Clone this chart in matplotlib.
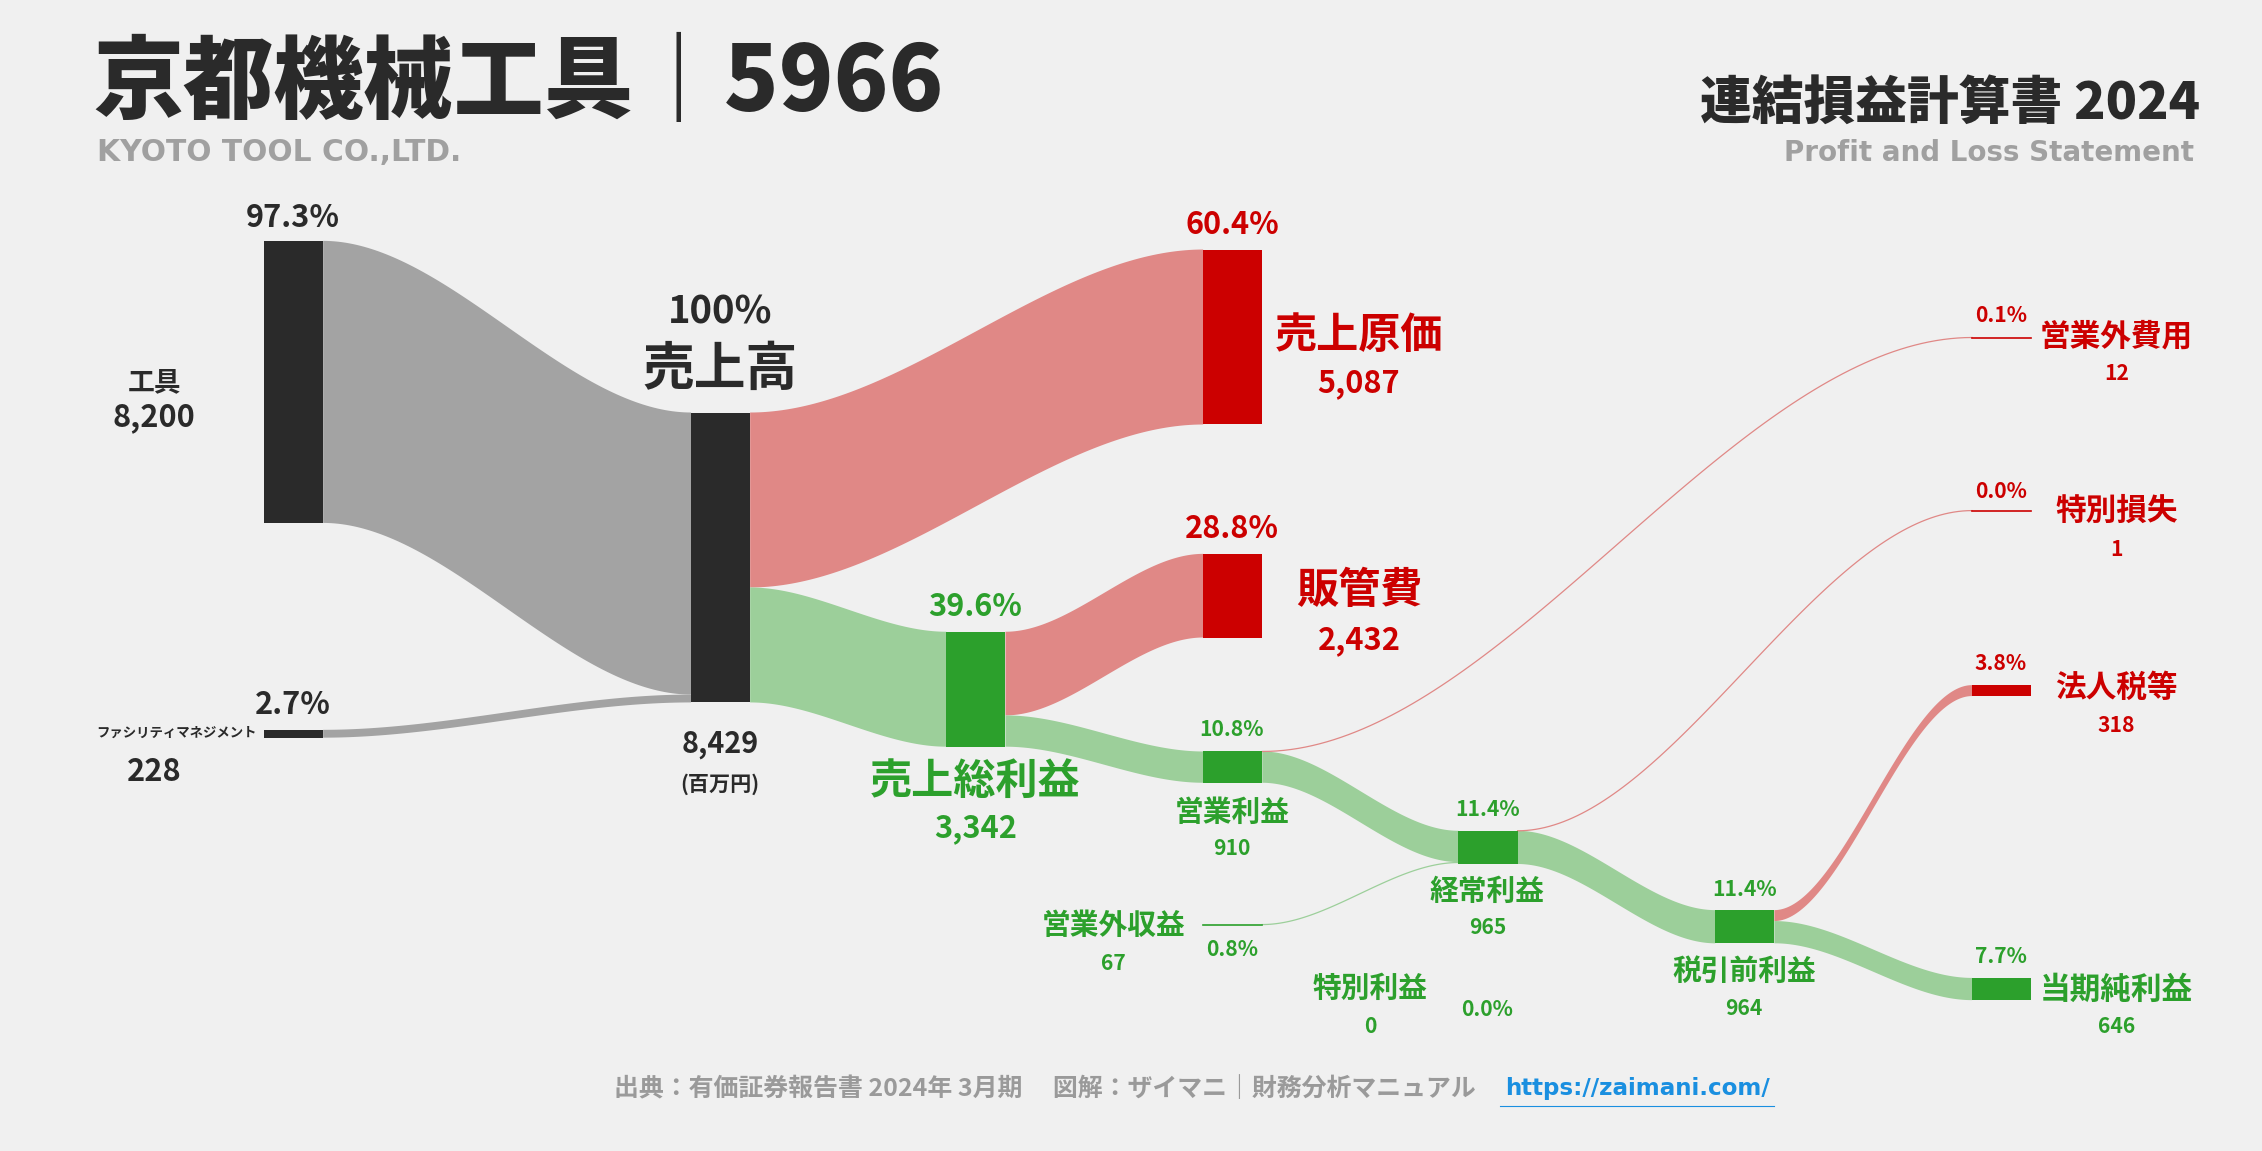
import matplotlib
matplotlib.use("Agg")
import matplotlib.pyplot as plt
import numpy as np
from matplotlib.patches import Polygon, Rectangle

# ---- data (百万円) ----
rev_names = ["工具", "ファシリティマネジメント"]
rev_vals = [8200, 228]
rev_pct = ["97.3%", "2.7%"]
total = 8429
cogs, sga, gross = 5087, 2432, 3342
op, nonop_inc, nonop_exp, ordinary = 910, 67, 12, 965
sp_gain, sp_loss, pretax = 0, 1, 964
tax, net = 318, 646
pcts = {"cogs": "60.4%", "sga": "28.8%", "gross": "39.6%", "op": "10.8%", "nie": "0.1%",
        "sl": "0.0%", "ord": "11.4%", "nii": "0.8%", "sg": "0.0%", "pre": "11.4%",
        "tax": "3.8%", "net": "7.7%"}

BG = "#f0f0f0"; DARK = "#2a2a2a"; GRAYF = "#a3a3a3"
RED = "#cc0000"; REDF = "#e08886"; GRN = "#2ca02c"; GRNF = "#9ccf9a"
JP = "Noto Sans CJK JP"
S = 1.38

fig = plt.figure(figsize=(22.62, 11.51), dpi=100, facecolor=BG)
ax = fig.add_axes([0, 0, 1, 1]); ax.set_xlim(0, 1568); ax.set_ylim(798, 0); ax.axis("off")
ax.set_facecolor(BG)
k = 201 / total
W = 41

def node(x, top, v, c, minh=0):
    h = max(v * k, minh)
    ax.add_patch(Rectangle((x, top), W, h, color=c, lw=0, zorder=3))
    return h

def band(x0, t0, b0, x1, t1, b1, c, alpha=1.0):
    s = np.linspace(0, 1, 100); f = s * s * (3 - 2 * s)
    xs = x0 + (x1 - x0) * s
    top = t0 + (t1 - t0) * f; bot = b0 + (b1 - b0) * f
    pts = np.vstack([np.column_stack([xs, top]), np.column_stack([xs[::-1], bot[::-1]])])
    ax.add_patch(Polygon(pts, closed=True, color=c, lw=0, alpha=alpha, zorder=2))

def line(x0, y0, x1, y1, c):
    s = np.linspace(0, 1, 100); f = s * s * (3 - 2 * s)
    ax.plot(x0 + (x1 - x0) * s, y0 + (y1 - y0) * f, color=c, lw=0.9, zorder=2)

def t(x, y, s, size, c=DARK, ha="center", w="bold", fam=JP):
    ax.text(x, y, s, fontsize=size * S, color=c, ha=ha, va="center", fontweight=w, family=fam)

# nodes
h_tool = node(183, 167, rev_vals[0], DARK)
h_fm = node(183, 506, rev_vals[1], DARK)
h_rev = node(479, 286, total, DARK)
h_cogs = node(834, 173, cogs, RED)
h_sga = node(834, 384, sga, RED)
h_gross = node(656, 438, gross, GRN)
h_op = node(834, 521, op, GRN)
h_ord = node(1011, 576, ordinary, GRN)
h_pre = node(1189, 631, pretax, GRN)
h_tax = node(1367, 475, tax, RED)
h_net = node(1367, 678, net, GRN)
ax.plot([834, 875], [641, 641], color=GRN, lw=1.2, zorder=3)
ax.plot([1367, 1408], [234, 234], color=RED, lw=1.2, zorder=3)
ax.plot([1367, 1408], [354, 354], color=RED, lw=1.2, zorder=3)

# flows
band(224, 167, 167 + h_tool, 479, 286, 286 + h_tool, GRAYF)
band(224, 506, 506 + h_fm, 479, 286 + h_tool, 286 + h_rev, GRAYF)
band(520, 286, 286 + cogs * k, 834, 173, 173 + h_cogs, REDF)
band(520, 286 + cogs * k, 286 + h_rev, 656, 438, 438 + h_gross, GRNF)
band(697, 438, 438 + h_sga, 834, 384, 384 + h_sga, REDF)
band(697, 438 + h_sga, 438 + h_gross, 834, 521, 521 + h_op, GRNF)
band(875, 521, 521 + h_op, 1011, 576, 576 + h_op, GRNF)
band(1052, 576, 576 + h_ord, 1189, 631, 631 + h_ord, GRNF)
band(1230, 631, 631 + h_tax, 1367, 475, 475 + h_tax, REDF)
band(1230, 631 + h_tax, 631 + h_pre, 1367, 678, 678 + h_net, GRNF)
line(875, 521, 1367, 234, "#e08886")
line(1052, 576, 1367, 354, "#e08886")
line(875, 641, 1011, 598, GRNF)

# header
t(65, 58, "京都機械工具｜5966", 47, ha="left", w="black")
t(67, 106, "KYOTO TOOL CO.,LTD.", 15.5, c="#a0a0a0", ha="left", fam="DejaVu Sans")
t(1525, 72, "連結損益計算書 2024", 27, ha="right", w="black")
t(1521, 106, "Profit and Loss Statement", 14.5, c="#a0a0a0", ha="right", fam="DejaVu Sans")

# left labels
t(203, 151, rev_pct[0], 16)
t(107, 265, rev_names[0], 14)
t(107, 289, "8,200", 16)
t(203, 489, rev_pct[1], 16)
t(178, 508, rev_names[1], 7, ha="right")
t(107, 535, "228", 16)
# center
t(499, 216, "100%", 20)
t(499, 256, "売上高", 27)
t(499, 516, "8,429", 15)
t(499, 544, "(百万円)", 11)
# right
t(854, 156, pcts["cogs"], 16, c=RED)
t(942, 233, "売上原価", 22, c=RED)
t(942, 266, "5,087", 16, c=RED)
t(854, 367, pcts["sga"], 16, c=RED)
t(942, 410, "販管費", 22, c=RED)
t(942, 444, "2,432", 16, c=RED)
t(676, 421, pcts["gross"], 16, c=GRN)
t(676, 542, "売上総利益", 22, c=GRN)
t(676, 574, "3,342", 16, c=GRN)
t(854, 506, pcts["op"], 11, c=GRN)
t(854, 563, "営業利益", 15, c=GRN)
t(854, 588, "910", 11, c=GRN)
t(1387, 219, pcts["nie"], 11, c=RED)
t(1467, 233, "営業外費用", 16, c=RED)
t(1467, 259, "12", 11, c=RED)
t(1387, 341, pcts["sl"], 11, c=RED)
t(1467, 354, "特別損失", 16, c=RED)
t(1467, 381, "1", 11, c=RED)
t(1031, 561, pcts["ord"], 11, c=GRN)
t(1031, 618, "経常利益", 15, c=GRN)
t(1031, 643, "965", 11, c=GRN)
t(772, 641, "営業外収益", 15, c=GRN)
t(772, 668, "67", 11, c=GRN)
t(854, 658, pcts["nii"], 11, c=GRN)
t(950, 685, "特別利益", 15, c=GRN)
t(950, 712, str(sp_gain), 11, c=GRN)
t(1031, 700, pcts["sg"], 11, c=GRN)
t(1209, 617, pcts["pre"], 11, c=GRN)
t(1209, 673, "税引前利益", 15, c=GRN)
t(1209, 699, "964", 11, c=GRN)
t(1387, 460, pcts["tax"], 11, c=RED)
t(1467, 477, "法人税等", 16, c=RED)
t(1467, 503, "318", 11, c=RED)
t(1387, 663, pcts["net"], 11, c=GRN)
t(1467, 686, "当期純利益", 16, c=GRN)
t(1467, 712, "646", 11, c=GRN)

# footer
t(1023, 755, "出典：有価証券報告書 2024年 3月期　 図解：ザイマニ｜財務分析マニュアル", 13, c="#9a9a9a", ha="right")
t(1043, 755, "https://zaimani.com/", 12, c="#1a8fe0", ha="left", fam="DejaVu Sans")
ax.plot([1040, 1230], [767, 767], color="#1a8fe0", lw=0.8)

fig.savefig("out.png", dpi=100, facecolor=BG)
